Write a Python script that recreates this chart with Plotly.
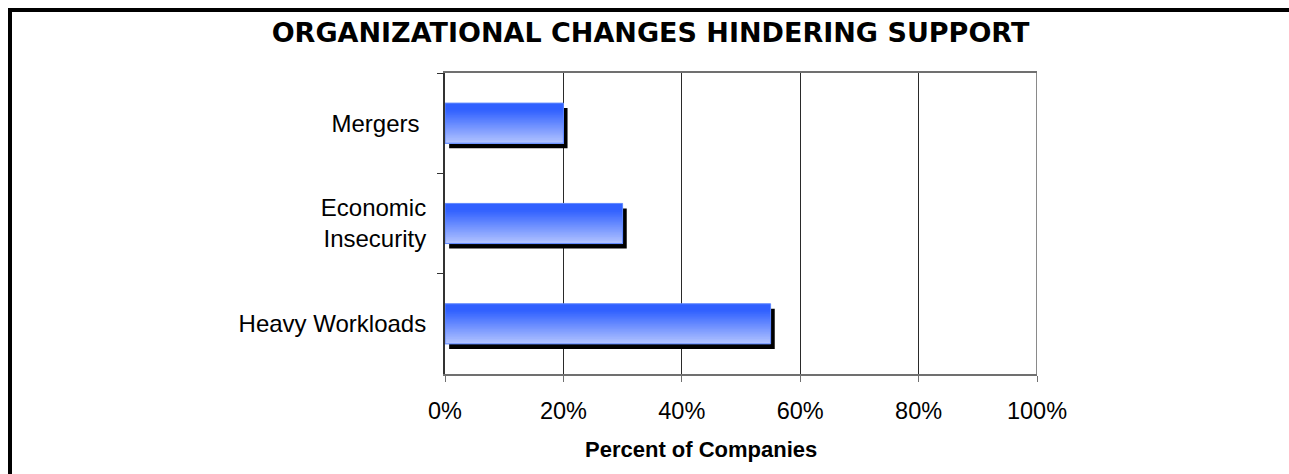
import plotly.graph_objects as go

# ---- data ----
categories = ["Mergers\u00a0", "Economic<br>Insecurity", "Heavy Workloads"]
values = [20, 30, 55]
x_ticks = [0, 20, 40, 60, 80, 100]
x_tick_labels = ["0%", "20%", "40%", "60%", "80%", "100%"]
title_text = "ORGANIZATIONAL CHANGES HINDERING SUPPORT"
x_title_text = "Percent of Companies"

# ---- layout constants (pixels) ----
W, H = 1289, 474
L, R, T, B = 445, 252, 73, 100
PW, PH = W - L - R, H - T - B

def px_to_paper_x(px):
    return (px - L) / PW

def px_to_paper_y(py):
    return (H - B - py) / PH

BAR_W = 0.4
N_STRIPS = 24
top_col = (0x30, 0x60, 0xFF)
bot_col = (0xB0, 0xC2, 0xFF)

def lerp(a, b, t):
    return tuple(int(round(a[k] + (b[k] - a[k]) * t)) for k in range(3))

fig = go.Figure()

# shadow
fig.add_trace(go.Bar(
    y=categories, x=values, base=0.7, orientation="h",
    width=BAR_W, offset=-BAR_W / 2 + 0.05,
    marker=dict(color="#000000", line=dict(width=0)),
    hoverinfo="skip", showlegend=False,
))

# gradient strips (top darker -> bottom lighter)
for i in range(N_STRIPS):
    t = i / (N_STRIPS - 1)
    tt = max(0.0, (t - 0.15) / 0.85)
    c = lerp(top_col, bot_col, tt)
    off = -BAR_W / 2 + i * BAR_W / N_STRIPS
    fig.add_trace(go.Bar(
        y=categories, x=values, orientation="h",
        width=BAR_W - i * BAR_W / N_STRIPS, offset=off,
        marker=dict(color="rgb(%d,%d,%d)" % c, line=dict(width=0)),
        hoverinfo="skip", showlegend=False,
    ))

# light outline
fig.add_trace(go.Bar(
    y=categories, x=values, orientation="h",
    width=BAR_W, offset=-BAR_W / 2,
    marker=dict(color="rgba(0,0,0,0)", line=dict(width=1, color="#5F88FF")),
    hoverinfo="skip", showlegend=False,
))

fig.update_layout(
    width=W, height=H,
    margin=dict(l=L, r=R, t=T, b=B, pad=0),
    paper_bgcolor="white", plot_bgcolor="white",
    barmode="overlay",
    showlegend=False,
    font=dict(family="Liberation Sans, Arial, sans-serif", color="black", size=23),
    title=dict(
        text="<b>" + title_text + "</b>",
        font=dict(family="DejaVu Sans, sans-serif", size=27, color="black"),
        x=650.5 / W, xref="container", xanchor="center",
        y=1 - 33 / H, yref="container", yanchor="middle",
    ),
    xaxis=dict(
        range=[0, 100], tickvals=x_ticks, ticktext=x_tick_labels,
        showgrid=True, gridcolor="#2a2a2a", gridwidth=1,
        showline=True, linecolor="#707070", linewidth=2, mirror=True,
        ticks="outside", ticklen=6, tickcolor="#707070", tickwidth=1,
        tickfont=dict(size=23.5), zeroline=False, fixedrange=True,
        ticklabelstandoff=9,
    ),
    yaxis=dict(
        autorange="reversed", type="category",
        showgrid=False, zeroline=False,
        showline=True, linecolor="#333333", linewidth=2,
        ticks="outside", tickson="boundaries", ticklen=6, tickcolor="#333333",
        tickfont=dict(size=24), fixedrange=True,
        ticklabelstandoff=12,
    ),
    shapes=[
        # right border of plot area
        dict(type="line", xref="x", yref="paper", x0=100, x1=100, y0=0, y1=1,
             line=dict(color="#8a8a8a", width=2)),
        # outer frame: top and left
        dict(type="line", xref="paper", yref="paper",
             x0=px_to_paper_x(8), x1=px_to_paper_x(W + 5),
             y0=px_to_paper_y(10), y1=px_to_paper_y(10),
             line=dict(color="black", width=4)),
        dict(type="line", xref="paper", yref="paper",
             x0=px_to_paper_x(10), x1=px_to_paper_x(10),
             y0=px_to_paper_y(8), y1=px_to_paper_y(H + 5),
             line=dict(color="black", width=4)),
    ],
    annotations=[
        dict(text="<b>" + x_title_text + "</b>", xref="paper", yref="paper",
             x=px_to_paper_x(701), y=px_to_paper_y(450),
             xanchor="center", yanchor="middle", showarrow=False,
             font=dict(size=22, family="Liberation Sans, Arial, sans-serif")),
    ],
)

fig.write_html("out.html")
